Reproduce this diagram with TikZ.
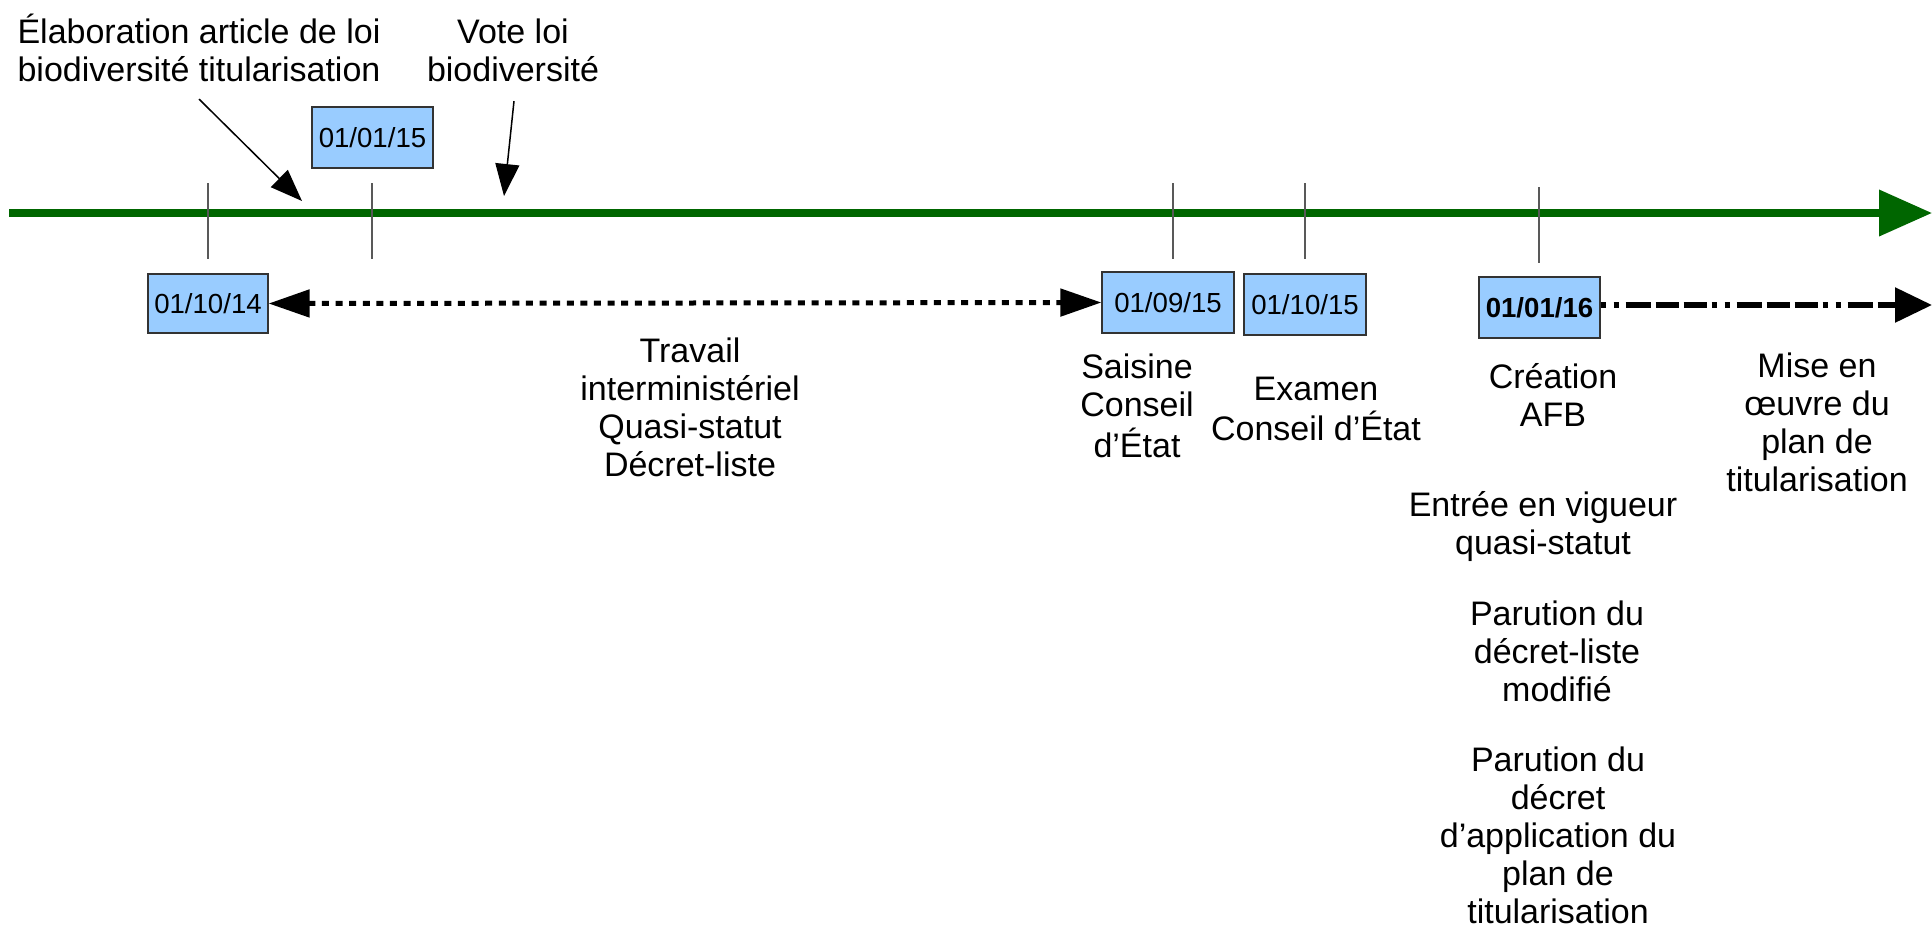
\documentclass[tikz,border=0pt]{standalone}
\usepackage{fontspec}
\setmainfont{Liberation Sans}
\usetikzlibrary{arrows.meta}
\definecolor{tlgreen}{RGB}{0,102,0}
\definecolor{boxblue}{RGB}{153,204,255}
% centred multi-line text whose baseline is that of its first line
\newcommand{\txtstack}[1]{\begin{tabular}[t]{@{}c@{}}#1\end{tabular}}

\begin{document}
\begin{tikzpicture}[x=0.5pt,y=-0.5pt,
  datebox/.style={draw=black!80, line width=0.6pt, fill=boxblue, inner sep=0pt,
                  font=\fontsize{13.8}{16}\selectfont},
  note/.style={anchor=base, inner sep=0pt, font=\fontsize{17}{19.1}\selectfont},
  tickmark/.style={draw=black!65, line width=0.7pt},
  axis/.style={draw=tlgreen, line width=3.6pt, -{Triangle[length=26.5pt,width=22.5pt]}},
  spanarrow/.style={line width=2.5pt, dash pattern=on 3.5pt off 3.3pt,
                    {Triangle[length=20.5pt,width=13.5pt]}-{Triangle[length=20.5pt,width=13.5pt]}},
  laterarrow/.style={line width=2.8pt,
                     dash pattern=on 2.5pt off 4pt on 2.5pt off 3.5pt on 12.5pt off 2.5pt on 11.5pt off 2.5pt on 11.5pt off 2.5pt,
                     -{Triangle[length=18.5pt,width=17pt]}},
  pointer/.style={line width=0.75pt, -{Triangle[length=16pt,width=12pt]}}
]
\useasboundingbox (0,0) rectangle (1932,928);

% time axis
\coordinate (axstart) at (9,213);
\coordinate (axend) at (1932,213);
\draw[axis] (axstart) -- (axend);

% tick marks on the axis
\draw[tickmark] (208,183) -- (208,259);
\draw[tickmark] (372,183) -- (372,259);
\draw[tickmark] (1173,183) -- (1173,259);
\draw[tickmark] (1305,183) -- (1305,259);
\draw[tickmark] (1539,187) -- (1539,263);

% dates
\node[datebox, minimum width=60pt, minimum height=29.5pt] (d1014) at (208,303.5) {01/10/14};
\node[datebox, minimum width=60.5pt, minimum height=30.5pt] (d0115) at (372.5,137.5) {01/01/15};
\node[datebox, minimum width=66pt, minimum height=30.5pt] (d0915) at (1168,302.5) {01/09/15};
\node[datebox, minimum width=61pt, minimum height=30.5pt] (d1015) at (1305,304.5) {01/10/15};
\node[datebox, minimum width=60.5pt, minimum height=30.5pt, font=\fontsize{13.8}{16}\selectfont\bfseries] (d0116) at (1539.5,307.5) {01/01/16};

% periods
\draw[spanarrow] (d1014.east) -- (d0915.west);
\coordinate (future) at (1932,305);
\draw[laterarrow] (d0116.east |- future) -- (future);

% events above the axis
\node[note] (elab) at (199,43) {\txtstack{Élaboration article de loi\\biodiversité titularisation}};
\node[note] (vote) at (513,43) {\txtstack{Vote loi\\biodiversité}};
\coordinate (elabtip) at (302,201);
\coordinate (votetip) at (504,196);
\draw[pointer] ([yshift=-3pt]elab.south) -- (elabtip);
\draw[pointer] ([yshift=-4pt,xshift=0.5pt]vote.south) -- (votetip);

% events below the axis
\node[note] (travail) at (690,362) {\txtstack{Travail\\interministériel\\Quasi-statut\\Décret-liste}};
\node[note] (saisine) at (1137,378) {\txtstack{Saisine\\Conseil\\d’État}};
\node[note] (examen) at (1316,400) {\txtstack{Examen\\Conseil d’État}};
\node[note] (afb) at (1553,388) {\txtstack{Création\\AFB}};
\node[note] (plan) at (1817,377) {\txtstack{Mise en\\œuvre du\\plan de\\titularisation}};
\node[note] (vigueur) at (1543,516) {\txtstack{Entrée en vigueur\\quasi-statut}};
\node[note] (liste) at (1557,625) {\txtstack{Parution du\\décret-liste\\modifié}};
\node[note] (appli) at (1558,771) {\txtstack{Parution du\\décret\\d’application du\\plan de\\titularisation}};
\end{tikzpicture}
\end{document}
